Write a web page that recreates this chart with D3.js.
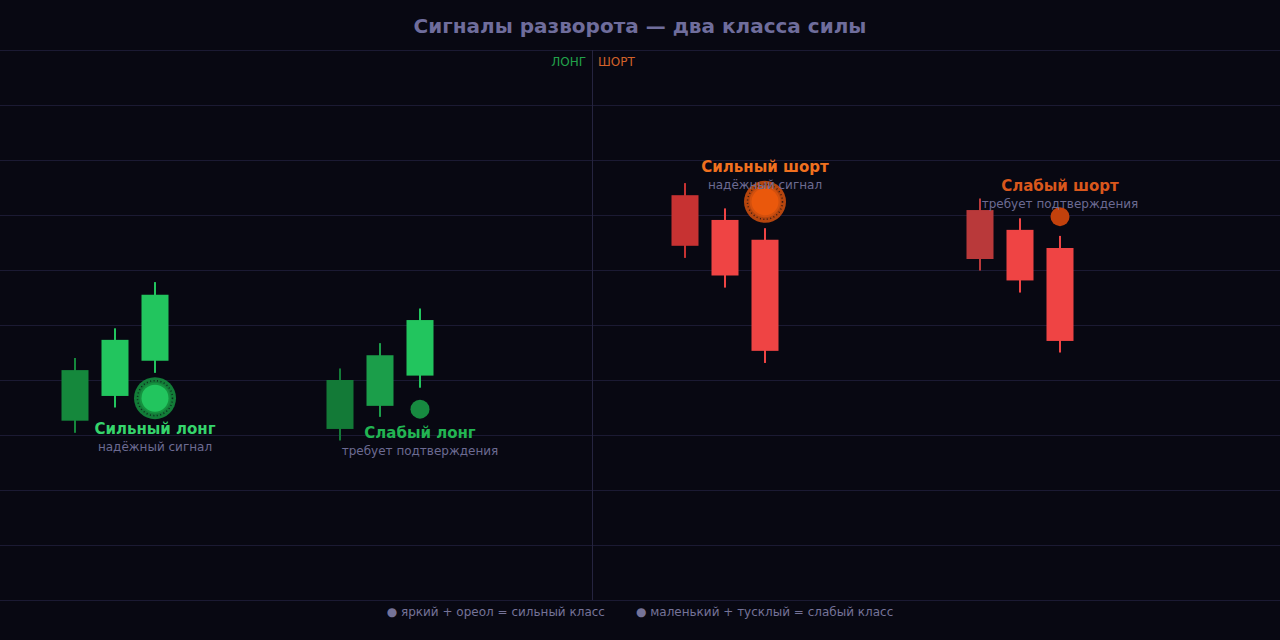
<!DOCTYPE html>
<html><head><meta charset="utf-8">
<script src="https://cdn.jsdelivr.net/npm/d3@7"></script>
<style>
html,body{margin:0;padding:0;background:#080812;}
svg{display:block;font-family:"DejaVu Sans",sans-serif;}
</style></head>
<body><svg id="c" width="1280" height="640"></svg>
<script>
// ---- data ----
const title = "Сигналы разворота — два класса силы";
const sideLabels = ["ЛОНГ", "ШОРТ"];
const dividerX = 59.2;
const groupNames = ["Сильный лонг", "Слабый лонг", "Сильный шорт", "Слабый шорт"];
const groupSubs = ["надёжный сигнал", "требует подтверждения", "надёжный сигнал", "требует подтверждения"];
const groupStrong = [true, false, true, false];
const groupLong = [true, true, false, false];
// candle x positions per group
const candleX = [[7.5, 11.5, 15.5], [34, 38, 42], [68.5, 72.5, 76.5], [98, 102, 106]];
// open, close, high, low
const candleHigh = [[44.0, 49.4, 57.8], [42.1, 46.7, 53.0], [75.8, 71.2, 67.6], [73.0, 69.4, 66.2]];
const candleOpen = [[32.6, 37.1, 43.5], [31.1, 35.3, 40.8], [73.6, 69.1, 65.5], [70.9, 67.3, 64.0]];
const candleClose = [[41.8, 47.3, 55.5], [40.0, 44.5, 50.9], [64.4, 59.0, 45.3], [62.0, 58.1, 47.1]];
const candleLow = [[30.4, 35.0, 41.3], [29.0, 33.3, 38.6], [62.2, 56.8, 43.1], [59.9, 55.9, 45.0]];
const candleColors = [["#15883c", "#22c55e", "#22c55e"], ["#137a37", "#1b9e4a", "#22c55e"],
                      ["#c73232", "#ef4444", "#ef4444"], ["#b9393a", "#ef4444", "#ef4444"]];
const signalValue = [36.7, 34.7, 72.4, 69.7];
const labelValue = [30.2, 29.4, 77.9, 74.3];
const legendItems = ["яркий + ореол = сильный класс", "маленький + тусклый = слабый класс"];
const yTicks = [0, 10, 20, 30, 40, 50, 60, 70, 80, 90, 100];

// ---- render ----
const W = 1280, H = 640;
const svg = d3.select("#c");
svg.append("rect").attr("width", W).attr("height", H).attr("fill", "#080812");

const x = d3.scaleLinear().domain([0, 128]).range([0, 1280]);
const y = d3.scaleLinear().domain([0, 100]).range([600, 50]);

// grid
svg.append("g").selectAll("line").data(yTicks).join("line")
  .attr("x1", 0).attr("x2", W)
  .attr("y1", d => y(d) + 0.5).attr("y2", d => y(d) + 0.5)
  .attr("stroke", "#1b1a33").attr("stroke-width", 1);

// divider
svg.append("line").attr("x1", x(dividerX) + 0.5).attr("x2", x(dividerX) + 0.5)
  .attr("y1", y(100)).attr("y2", y(0)).attr("stroke", "#25243f").attr("stroke-width", 1);

svg.append("text").attr("x", x(dividerX) - 6).attr("y", 66).attr("text-anchor", "end")
  .attr("font-size", 12).attr("fill", "#22a24b").text(sideLabels[0]);
svg.append("text").attr("x", x(dividerX) + 6).attr("y", 66).attr("text-anchor", "start")
  .attr("font-size", 12).attr("fill", "#d2622a").text(sideLabels[1]);

// title
svg.append("text").attr("x", W / 2).attr("y", 33).attr("text-anchor", "middle")
  .attr("font-size", 20).attr("font-weight", "bold").attr("fill", "#6f6d9c").text(title);

const bodyW = 27;
groupNames.forEach((name, g) => {
  const gg = svg.append("g");
  candleX[g].forEach((cx, i) => {
    const col = candleColors[g][i];
    const X = x(cx);
    gg.append("rect").attr("x", X - 1).attr("width", 2)
      .attr("y", y(candleHigh[g][i])).attr("height", y(candleLow[g][i]) - y(candleHigh[g][i]))
      .attr("fill", col);
    const top = Math.max(candleOpen[g][i], candleClose[g][i]);
    const bot = Math.min(candleOpen[g][i], candleClose[g][i]);
    gg.append("rect").attr("x", X - bodyW / 2).attr("width", bodyW)
      .attr("y", y(top)).attr("height", y(bot) - y(top)).attr("fill", col);
  });
  const sx = x(candleX[g][2]), sy = y(signalValue[g]);
  const long = groupLong[g];
  if (groupStrong[g]) {
    const bright = long ? "#22c55e" : "#ea580c";
    const halo = long ? "#15913f" : "#d2500e";
    gg.append("circle").attr("cx", sx).attr("cy", sy).attr("r", 21).attr("fill", halo).attr("opacity", 0.85);
    gg.append("circle").attr("cx", sx).attr("cy", sy).attr("r", 17.5).attr("fill", "none")
      .attr("stroke", "#080812").attr("stroke-width", 1.5).attr("stroke-dasharray", "1 2.5").attr("opacity", 0.7);
    gg.append("circle").attr("cx", sx).attr("cy", sy).attr("r", 15.5).attr("fill", halo);
    gg.append("circle").attr("cx", sx).attr("cy", sy).attr("r", 13.5).attr("fill", bright);
  } else {
    gg.append("circle").attr("cx", sx).attr("cy", sy).attr("r", 9.5).attr("fill", long ? "#178a40" : "#c2410c");
  }
  const ly = y(labelValue[g]);
  gg.append("text").attr("x", sx).attr("y", ly).attr("text-anchor", "middle")
    .attr("font-size", 15).attr("font-weight", "bold")
    .attr("fill", long ? (groupStrong[g] ? "#35d46c" : "#22b552") : (groupStrong[g] ? "#f0701f" : "#d9571c"))
    .text(name);
  gg.append("text").attr("x", sx).attr("y", ly + 17).attr("text-anchor", "middle")
    .attr("font-size", 12).attr("fill", "#6c6b92").text(groupSubs[g]);
});

// legend
const lg = svg.append("g");
const l1 = lg.append("text").attr("y", 616).attr("font-size", 12).attr("fill", "#757398").text("● " + legendItems[0]);
const l2 = lg.append("text").attr("y", 616).attr("font-size", 12).attr("fill", "#757398").text("● " + legendItems[1]);
const w1 = l1.node().getComputedTextLength(), w2 = l2.node().getComputedTextLength();
const gap = 31;
const start = W / 2 - (w1 + gap + w2) / 2;
l1.attr("x", start);
l2.attr("x", start + w1 + gap);
</script></body></html>
